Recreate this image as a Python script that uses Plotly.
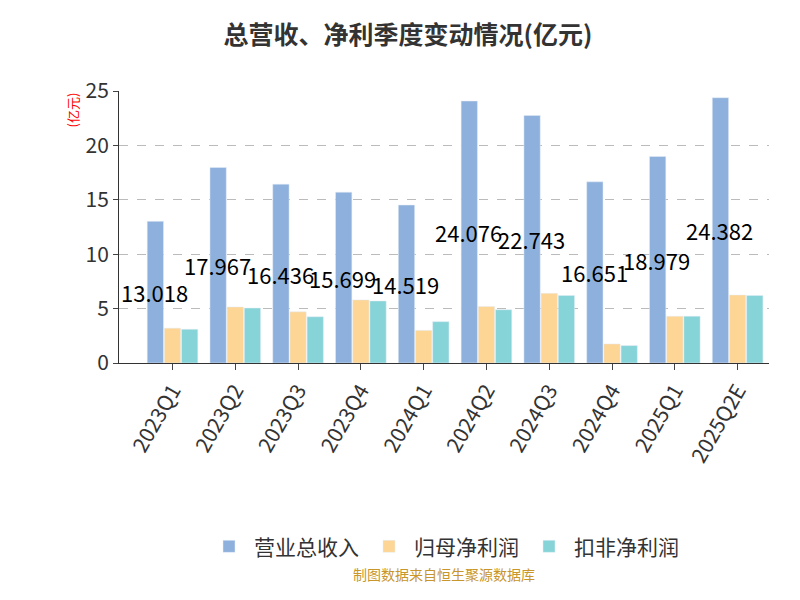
import plotly.graph_objects as go

quarters = ["2023Q1", "2023Q2", "2023Q3", "2023Q4", "2024Q1",
            "2024Q2", "2024Q3", "2024Q4", "2025Q1", "2025Q2E"]
revenue = [13.018, 17.967, 16.436, 15.699, 14.519, 24.076, 22.743, 16.651, 18.979, 24.382]
net_profit = [3.2, 5.15, 4.7, 5.8, 3.0, 5.2, 6.4, 1.75, 4.3, 6.25]
deducted_profit = [3.1, 5.05, 4.25, 5.7, 3.8, 4.9, 6.2, 1.6, 4.3, 6.2]

fig = go.Figure()
fig.add_bar(x=quarters, y=revenue, name="营业总收入", marker_color="#8eb0dc")
fig.add_bar(x=quarters, y=net_profit, name="归母净利润", marker_color="#fdd595")
fig.add_bar(x=quarters, y=deducted_profit, name="扣非净利润", marker_color="#86d4d8")

for q, v in zip(quarters, revenue):
    fig.add_annotation(x=q, y=v / 2, text=f"{v:.3f}", showarrow=False,
                       xshift=-18, font=dict(size=22, color="black"))

fig.add_annotation(text="(亿元)", xref="paper", yref="paper", x=-0.09, y=1.0,
                   showarrow=False, textangle=-90, font=dict(size=13, color="red"),
                   yanchor="top")
fig.add_annotation(text="制图数据来自恒生聚源数据库", xref="paper", yref="paper",
                   x=0.5, y=-0.82, showarrow=False, font=dict(size=14, color="#c8962a"))

fig.update_layout(
    width=800, height=600,
    title=dict(text="<b>总营收、净利季度变动情况(亿元)</b>", x=0.5, y=0.97,
               font=dict(size=25, color="#333")),
    font=dict(family="Noto Sans CJK SC", color="#333"),
    plot_bgcolor="white", paper_bgcolor="white",
    margin=dict(l=111, r=39, t=83, b=245),
    barmode="group", bargap=0.18, bargroupgap=0.05,
    legend=dict(orientation="h", x=0.5, xanchor="center", y=-0.6,
                font=dict(size=21), itemwidth=40),
    showlegend=True,
)
fig.update_xaxes(tickangle=-60, tickfont=dict(size=21, color="#333"), showline=True,
                 linecolor="#333", ticks="outside", ticklen=6)
fig.update_yaxes(range=[0, 25], dtick=5, tickfont=dict(size=21),
                 showgrid=True, gridcolor="#bbb", griddash="dash",
                 showline=True, linecolor="#333", ticks="outside", zeroline=False)

fig.write_html("out.html")
